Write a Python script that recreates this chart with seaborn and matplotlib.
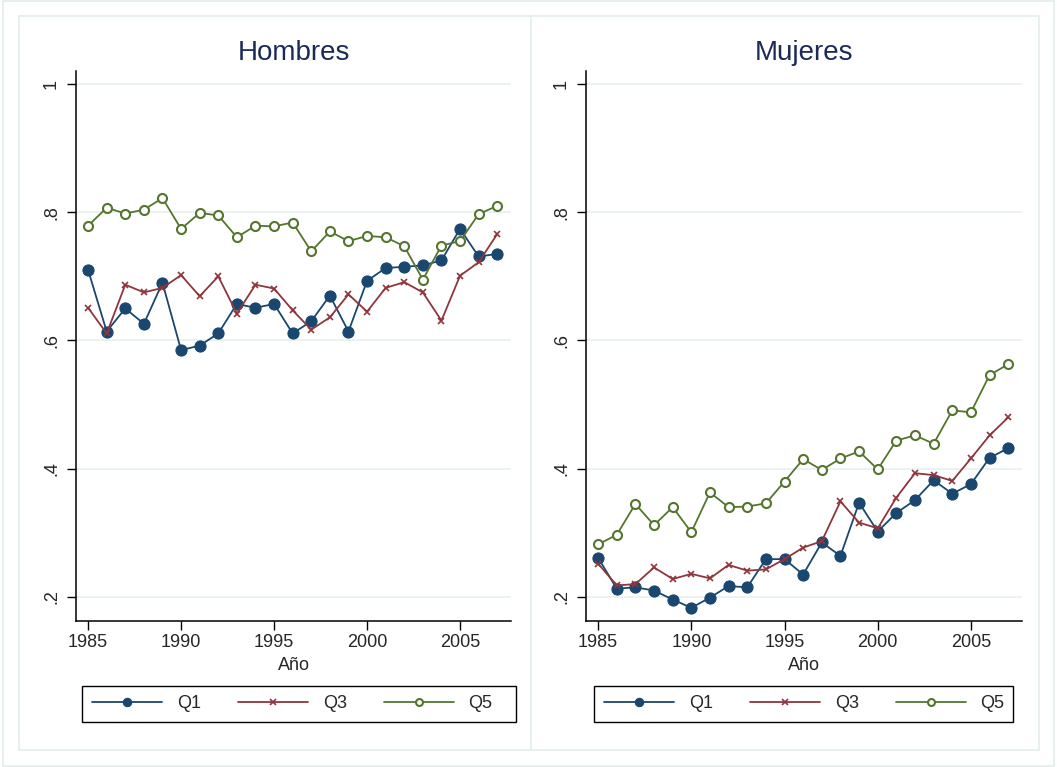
import matplotlib
matplotlib.use("Agg")
import matplotlib.pyplot as plt
from matplotlib.lines import Line2D
from matplotlib.patches import Rectangle
import seaborn as sns
import pandas as pd

years = list(range(1985, 2008))

hombres_q1 = [0.710, 0.614, 0.650, 0.626, 0.690, 0.585, 0.592, 0.611, 0.657, 0.651, 0.657, 0.611,
              0.630, 0.670, 0.614, 0.693, 0.713, 0.715, 0.717, 0.725, 0.774, 0.731, 0.735]
hombres_q3 = [0.651, 0.611, 0.687, 0.675, 0.682, 0.702, 0.669, 0.700, 0.642, 0.687, 0.681, 0.647,
              0.617, 0.636, 0.672, 0.645, 0.682, 0.691, 0.675, 0.631, 0.701, 0.722, 0.766]
hombres_q5 = [0.779, 0.807, 0.798, 0.804, 0.822, 0.774, 0.799, 0.795, 0.761, 0.779, 0.778, 0.784,
              0.739, 0.770, 0.755, 0.763, 0.761, 0.747, 0.695, 0.748, 0.755, 0.797, 0.810]

mujeres_q1 = [0.261, 0.213, 0.215, 0.210, 0.196, 0.183, 0.199, 0.217, 0.215, 0.259, 0.259, 0.235,
              0.285, 0.264, 0.347, 0.302, 0.331, 0.351, 0.382, 0.361, 0.376, 0.417, 0.432]
mujeres_q3 = [0.252, 0.218, 0.220, 0.246, 0.228, 0.236, 0.229, 0.250, 0.241, 0.243, 0.259, 0.277,
              0.287, 0.349, 0.316, 0.307, 0.355, 0.393, 0.390, 0.381, 0.416, 0.452, 0.480]
mujeres_q5 = [0.282, 0.297, 0.345, 0.312, 0.340, 0.301, 0.363, 0.340, 0.341, 0.346, 0.380, 0.415,
              0.398, 0.416, 0.427, 0.399, 0.444, 0.452, 0.439, 0.491, 0.488, 0.546, 0.563]

panel_titles = ["Hombres", "Mujeres"]
series_labels = ["Q1", "Q3", "Q5"]
x_ticks = [1985, 1990, 1995, 2000, 2005]
y_ticks = [0.2, 0.4, 0.6, 0.8, 1.0]
y_tick_labels = [".2", ".4", ".6", ".8", "1"]
x_label = "Año"

sns.set_style("white")
plt.rcParams['font.family'] = ['Liberation Sans', 'DejaVu Sans']

colors = {"Q1": "#1a476f", "Q3": "#90353b", "Q5": "#55752f"}
styles = {
    "Q1": dict(marker="o", ms=8, markerfacecolor=colors["Q1"], markeredgecolor=colors["Q1"], markeredgewidth=0.8),
    "Q3": dict(marker="x", ms=5, markeredgecolor=colors["Q3"], markeredgewidth=1.2),
    "Q5": dict(marker="o", ms=6.5, markerfacecolor="white", markeredgecolor=colors["Q5"], markeredgewidth=1.5),
}
legend_ms = {"Q1": 6, "Q3": 4, "Q5": 5}

W, H = 1057, 767
fig = plt.figure(figsize=(W / 100, H / 100), dpi=100)
fig.patch.set_facecolor("white")

border = "#e4ecee"
fig.patches.append(Rectangle((3 / W, 1 - 766 / H), (1054 - 3) / W, (766 - 1) / H, transform=fig.transFigure,
                             fill=False, edgecolor=border, lw=1.2))
fig.patches.append(Rectangle((19 / W, 1 - 750 / H), (1039 - 19) / W, (750 - 16) / H, transform=fig.transFigure,
                             fill=False, edgecolor=border, lw=1.2))
fig.add_artist(Line2D([531 / W, 531 / W], [1 - 750 / H, 1 - 16 / H], transform=fig.transFigure,
                      color=border, lw=1.2))

data_sets = [
    {"Q1": hombres_q1, "Q3": hombres_q3, "Q5": hombres_q5},
    {"Q1": mujeres_q1, "Q3": mujeres_q3, "Q5": mujeres_q5},
]
axes_left_px = [76, 586]
axes_right_px = [511, 1022]
top_px, bottom_px = 71, 621

for i in range(2):
    l, r = axes_left_px[i], axes_right_px[i]
    ax = fig.add_axes([l / W, 1 - bottom_px / H, (r - l) / W, (bottom_px - top_px) / H])
    ax.set_facecolor("white")
    for s in series_labels:
        df = pd.DataFrame({"year": years, "value": data_sets[i][s]})
        sns.lineplot(data=df, x="year", y="value", ax=ax, color=colors[s], lw=1.3, **styles[s])
    ax.set_xlim(1984.35, 2007.74)
    ax.set_ylim(0.1625, 1.0203)
    ax.set_xticks(x_ticks)
    ax.set_xticklabels([str(t) for t in x_ticks], fontsize=13)
    ax.set_yticks(y_ticks)
    ax.set_yticklabels(y_tick_labels, fontsize=13, rotation=90, va="center")
    ax.grid(axis="y", color="#e8f0f1", lw=1.2)
    ax.set_axisbelow(True)
    ax.set_xlabel(x_label, fontsize=13, labelpad=4)
    ax.set_ylabel("")
    for sp in ["top", "right"]:
        ax.spines[sp].set_visible(False)
    for sp in ["left", "bottom"]:
        ax.spines[sp].set_color("black")
        ax.spines[sp].set_linewidth(1.1)
    ax.tick_params(axis="both", direction="out", length=6.5, width=1, color="black",
                   bottom=True, left=True)
    ax.tick_params(axis="x", pad=3)
    ax.tick_params(axis="y", pad=5)
    cx = (l + r) / 2
    fig.text(cx / W, 1 - 53 / H, panel_titles[i], ha="center", va="center", fontsize=20, color="#1c2b56")

    handles = []
    for s in series_labels:
        st = dict(styles[s])
        st["ms"] = legend_ms[s]
        handles.append(Line2D([], [], color=colors[s], lw=1.3, **st))
    leg_l = [82, 594][i]
    leg_r = [516, 1013][i]
    leg_t, leg_b = 686, 722
    fig.patches.append(Rectangle((leg_l / W, 1 - leg_b / H), (leg_r - leg_l) / W, (leg_b - leg_t) / H,
                                 transform=fig.transFigure, fill=False, edgecolor="black", lw=1.0))
    fig.legend(handles, series_labels, loc="center left",
               bbox_to_anchor=(leg_l / W, 1 - (leg_t + leg_b) / 2 / H),
               ncol=3, fontsize=13, frameon=False,
               handlelength=3.9, handletextpad=0.8, columnspacing=2.05, borderaxespad=0,
               borderpad=0.55)

fig.savefig("out.png", dpi=100, facecolor="white")
